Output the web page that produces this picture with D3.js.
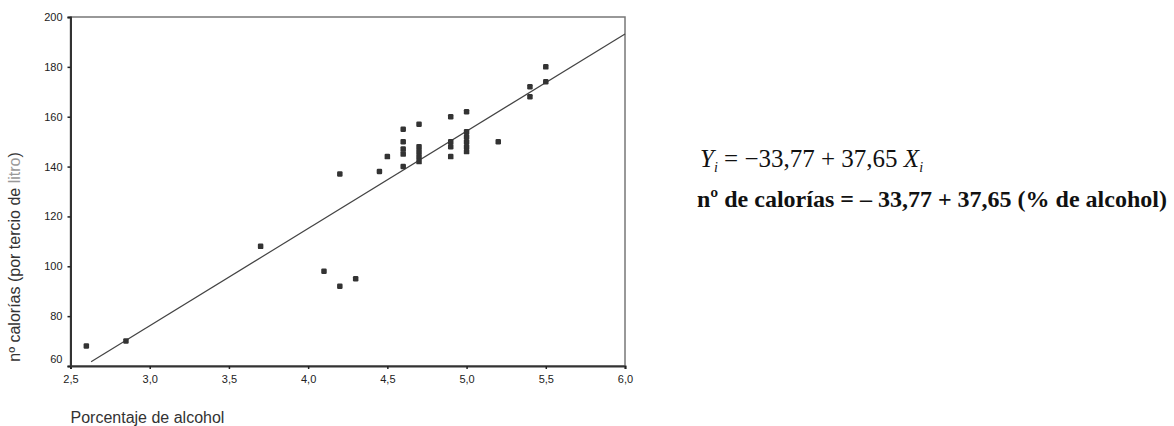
<!DOCTYPE html>
<html>
<head>
<meta charset="utf-8">
<script src="https://cdn.jsdelivr.net/npm/d3@7"></script>
<style>
  body { margin: 0; background: #fff; }
  svg { display: block; }
</style>
</head>
<body>
<div id="chart"></div>
<script>
// data
const alcohol = [2.6, 2.85, 3.7, 4.1, 4.2, 4.3, 4.2, 4.45, 4.5,
    4.6, 4.6, 4.6, 4.6, 4.6,
    4.7, 4.7, 4.7, 4.7, 4.7,
    4.9, 4.9, 4.9, 4.9,
    5.0, 5.0, 5.0, 5.0, 5.0, 5.0,
    5.2, 5.4, 5.4, 5.5, 5.5];
const calories = [68, 70, 108, 98, 92, 95, 137, 138, 144,
    155, 150, 147, 145, 140,
    157, 148, 146, 144, 142,
    160, 150, 148, 144,
    162, 154, 152, 150, 148, 146,
    150, 172, 168, 180, 174];
const fitX = [2.63, 6.0];
const fitY = [61.7, 193.2];
const xTicks = [2.5, 3.0, 3.5, 4.0, 4.5, 5.0, 5.5, 6.0];
const yTicks = [60, 80, 100, 120, 140, 160, 180, 200];

const params = {
    width: 1174,
    height: 426,
    left: 70.5, right: 625, top: 17, bottom: 366
};

const svg = d3.select("#chart")
    .append("svg")
    .attr("width", params.width)
    .attr("height", params.height);

const x = d3.scaleLinear().domain([2.5, 6.0]).range([params.left, params.right]);
const y = d3.scaleLinear().domain([60, 200]).range([params.bottom, params.top]);

const comma = d => d3.format(".1f")(d).replace(".", ",");

// frame (top and right edges)
svg.append("rect")
    .attr("x", params.left)
    .attr("y", params.top)
    .attr("width", params.right - params.left)
    .attr("height", params.bottom - params.top)
    .attr("fill", "none")
    .attr("stroke", "#777")
    .attr("stroke-width", 1.5);

// X-axis
const xAxis = svg.append("g")
    .attr("transform", `translate(0,${params.bottom})`)
    .call(d3.axisBottom(x).tickValues(xTicks).tickFormat(comma).tickSize(3).tickPadding(6));

// Y-axis
const yAxis = svg.append("g")
    .attr("transform", `translate(${params.left},0)`)
    .call(d3.axisLeft(y).tickValues(yTicks).tickSize(3).tickPadding(5));

[xAxis, yAxis].forEach(ax => {
    ax.select(".domain").attr("stroke", "#333").attr("stroke-width", 2);
    ax.selectAll(".tick line").attr("stroke", "#222").attr("stroke-width", 1.5);
    ax.selectAll("text")
        .attr("font-family", "'Liberation Sans', Arial, sans-serif")
        .attr("font-size", "11px")
        .attr("fill", "#222");
});
// lowest y label sits a bit above its tick
yAxis.selectAll(".tick text").filter(d => d === 60).attr("dy", "-0.3em");

// regression line
svg.append("line")
    .attr("x1", x(fitX[0]))
    .attr("y1", y(fitY[0]))
    .attr("x2", x(fitX[1]))
    .attr("y2", y(fitY[1]))
    .attr("stroke", "#444")
    .attr("stroke-width", 1.2);

// points
svg.append("g")
    .selectAll("rect")
    .data(alcohol.map((a, i) => ({a: a, c: calories[i]})))
    .enter().append("rect")
        .attr("x", d => x(d.a) - 2.75)
        .attr("y", d => y(d.c) - 2.75)
        .attr("width", 5.5)
        .attr("height", 5.5)
        .attr("rx", 1.2)
        .attr("fill", "#333");

// X-axis label
svg.append("text")
    .attr("x", params.left)
    .attr("y", 423)
    .attr("font-family", "'Liberation Sans', Arial, sans-serif")
    .attr("font-size", "16px")
    .attr("fill", "#333")
    .text("Porcentaje de alcohol");

// Y-axis label
const yLab = svg.append("text")
    .attr("transform", "rotate(-90)")
    .attr("x", -257)
    .attr("y", 20)
    .attr("text-anchor", "middle")
    .attr("font-family", "'Liberation Sans', Arial, sans-serif")
    .attr("font-size", "16px")
    .attr("fill", "#333");
yLab.append("tspan").text("nº calorías (por tercio de ");
yLab.append("tspan").attr("fill", "#999").text("litro");
yLab.append("tspan").text(")");

// equations
const eq1 = svg.append("text")
    .attr("x", 700)
    .attr("y", 167)
    .attr("font-family", "'Liberation Serif', 'Times New Roman', serif")
    .attr("font-size", "25px")
    .attr("fill", "#111");
eq1.append("tspan").attr("font-style", "italic").text("Y");
eq1.append("tspan").attr("font-style", "italic").attr("font-size", "14px").attr("dy", 5).text("i");
eq1.append("tspan").attr("dy", -5).text(" = \u221233,77 + 37,65 ");
eq1.append("tspan").attr("font-style", "italic").text("X");
eq1.append("tspan").attr("font-style", "italic").attr("font-size", "14px").attr("dy", 5).text("i");

svg.append("text")
    .attr("x", 697)
    .attr("y", 207)
    .attr("font-family", "'Liberation Serif', 'Times New Roman', serif")
    .attr("font-size", "24px")
    .attr("font-weight", "bold")
    .attr("fill", "#111")
    .text("nº de calorías = \u2013 33,77 + 37,65 (% de alcohol)");
</script>
</body>
</html>
